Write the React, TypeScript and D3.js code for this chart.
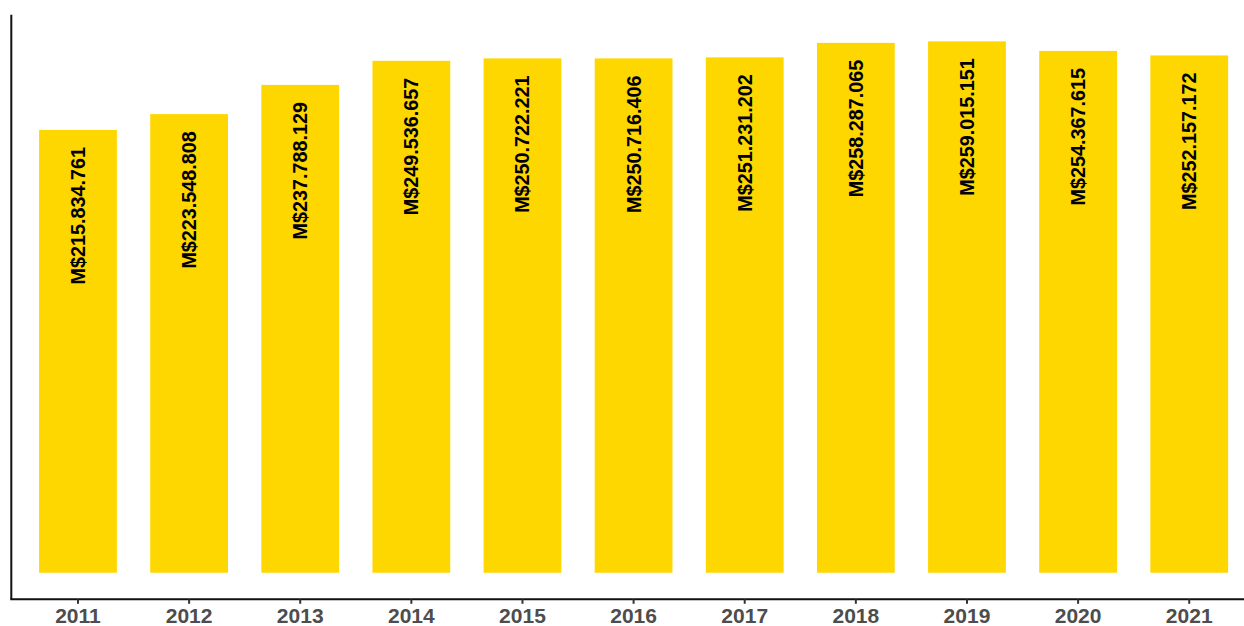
import React from "react";
import * as d3 from "d3";

const years = ["2011", "2012", "2013", "2014", "2015", "2016", "2017", "2018", "2019", "2020", "2021"];
const values = [215834761, 223548808, 237788129, 249536657, 250722221, 250716406, 251231202, 258287065, 259015151, 254367615, 252157172];
const labels = ["M$215.834.761", "M$223.548.808", "M$237.788.129", "M$249.536.657", "M$250.722.221", "M$250.716.406", "M$251.231.202", "M$258.287.065", "M$259.015.151", "M$254.367.615", "M$252.157.172"];

const W = 1244;
const H = 626;
const panelLeft = 11.3;
const panelRight = 1255.9;
const panelTop = 14.8;
const panelBottom = 599.3;

export default function App() {
  const maxV = d3.max(values) as number;
  const y = d3
    .scaleLinear()
    .domain([-0.05 * maxV, 1.05 * maxV])
    .range([panelBottom, panelTop]);
  const step = (panelRight - panelLeft) / (years.length - 1 + 1.2);
  const x = d3
    .scaleBand()
    .domain(years)
    .range([panelLeft + 0.6 * step - step / 2, panelRight - 0.6 * step + step / 2])
    .paddingInner(0.3)
    .paddingOuter(0.15);
  const font = "'Liberation Sans', Arial, sans-serif";
  return (
    <svg
      width={W}
      height={H}
      style={{ position: "absolute", left: 0, top: 0, background: "#fff" }}
    >
      {years.map((yr, i) => {
        const x0 = x(yr) as number;
        const bw = x.bandwidth();
        const top = y(values[i]);
        const cx = x0 + bw / 2;
        return (
          <g key={yr}>
            <rect x={x0} y={top} width={bw} height={y(0) - top} fill="#FFD700" />
            <text
              transform={`translate(${cx},${top + 17}) rotate(-90)`}
              textAnchor="end"
              dominantBaseline="central"
              fontFamily={font}
              fontWeight="bold"
              fontSize={19.8}
              fill="#000"
            >
              {labels[i]}
            </text>
          </g>
        );
      })}
      <line x1={panelLeft} x2={panelLeft} y1={panelTop} y2={panelBottom} stroke="#111" strokeWidth={2} />
      <line x1={panelLeft - 1} x2={panelRight} y1={panelBottom} y2={panelBottom} stroke="#111" strokeWidth={2} />
      {years.map((yr) => {
        const cx = (x(yr) as number) + x.bandwidth() / 2;
        return (
          <g key={"t" + yr}>
            <line x1={cx} x2={cx} y1={panelBottom} y2={panelBottom + 4.5} stroke="#333" strokeWidth={2} />
            <text
              x={cx}
              y={623}
              textAnchor="middle"
              fontFamily={font}
              fontWeight="bold"
              fontSize={21}
              fill="#4D4D4D"
            >
              {yr}
            </text>
          </g>
        );
      })}
    </svg>
  );
}
